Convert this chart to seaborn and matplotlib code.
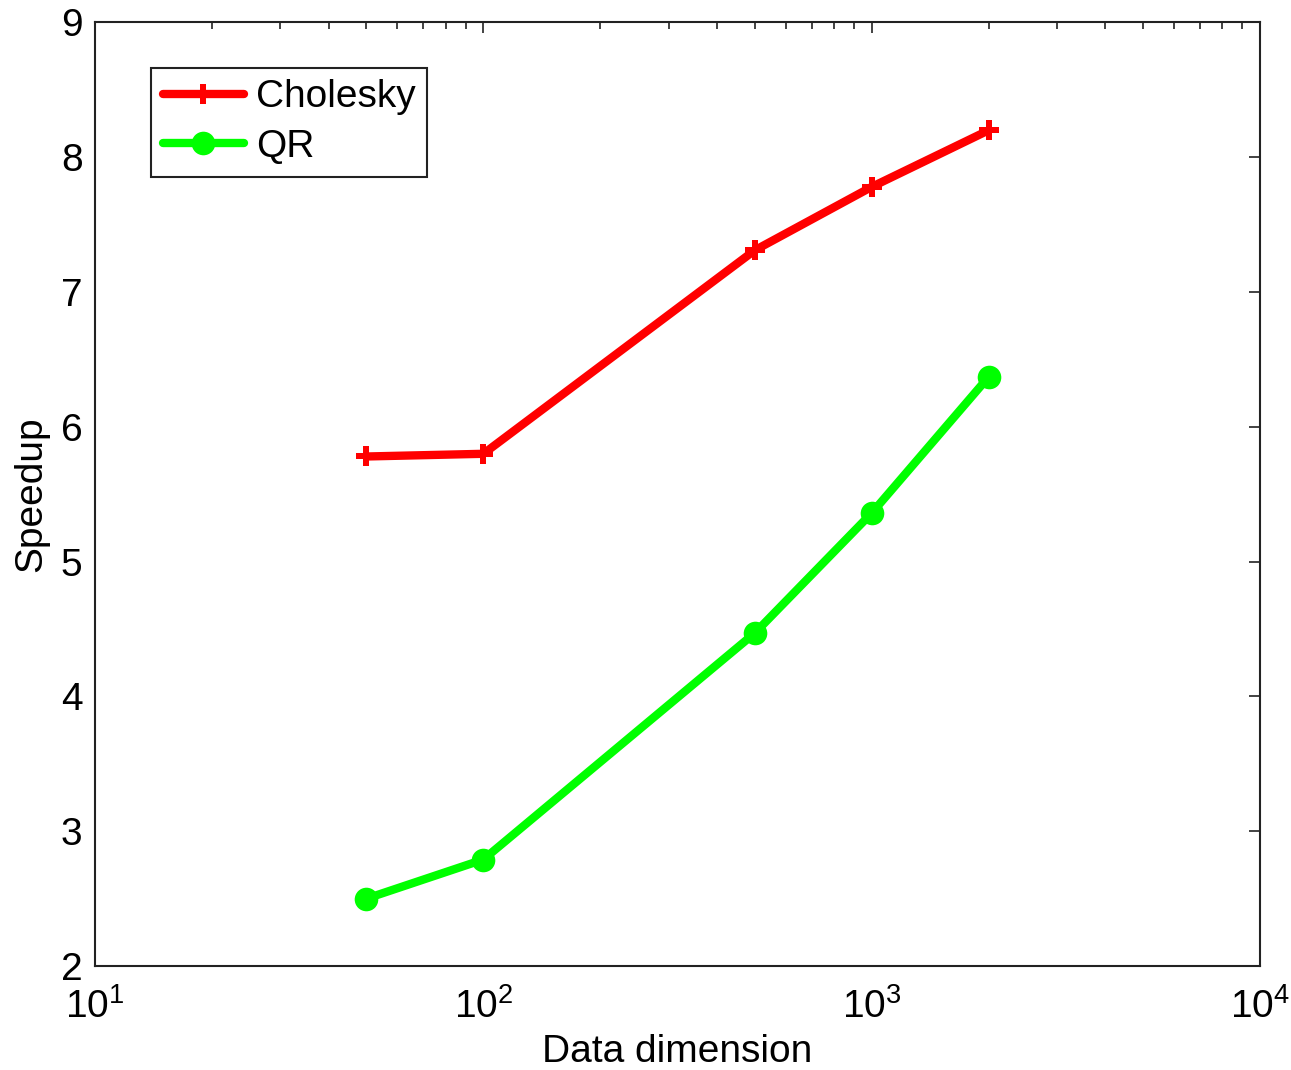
import matplotlib.pyplot as plt
import seaborn as sns
import pandas as pd
import numpy as np
from matplotlib.ticker import LogLocator, NullFormatter

dims = [50, 100, 500, 1000, 2000]
cholesky = [5.78, 5.80, 7.31, 7.78, 8.20]
qr = [2.50, 2.79, 4.47, 5.36, 6.37]

sns.set_style('white')
plt.rcParams['font.family'] = ['Liberation Sans', 'DejaVu Sans']
plt.rcParams['mathtext.fontset'] = 'custom'
plt.rcParams['mathtext.rm'] = 'Liberation Sans'
plt.rcParams['text.color'] = 'black'
plt.rcParams['axes.labelcolor'] = 'black'
plt.rcParams['xtick.color'] = 'black'
plt.rcParams['ytick.color'] = 'black'

df = pd.DataFrame({
    'dim': dims * 2,
    'speedup': cholesky + qr,
    'method': ['Cholesky'] * len(dims) + ['QR'] * len(dims),
})

fig = plt.figure(figsize=(12.91, 10.70), dpi=100)
ax = fig.add_axes([0.0736, 0.0972, 0.9024, 0.8818])

sns.lineplot(data=df, x='dim', y='speedup', hue='method', style='method',
             palette={'Cholesky': '#ff0000', 'QR': '#00ff00'},
             markers={'Cholesky': 'P', 'QR': 'o'}, dashes=False,
             linewidth=6, markersize=15, markeredgewidth=0, ax=ax)
# circles a bit bigger than the plus markers
for line in ax.lines:
    if line.get_marker() == 'o':
        line.set_markersize(17)

ax.set_xscale('log')
ax.set_xlim(10, 1e4)
ax.set_ylim(2, 9)
ax.set_yticks(range(2, 10))
ax.xaxis.set_major_locator(LogLocator(base=10, numticks=10))
ax.xaxis.set_minor_locator(LogLocator(base=10, subs=np.arange(2, 10), numticks=10))
ax.xaxis.set_minor_formatter(NullFormatter())
ax.tick_params(which='both', direction='in', top=True, right=True,
               labelsize=28, width=1.2, color='#222222')
ax.tick_params(which='major', length=8)
ax.tick_params(which='minor', length=5)
ax.tick_params(axis='x', which='major', pad=16)
ax.tick_params(axis='y', which='major', pad=9)
for s in ax.spines.values():
    s.set_color('#222222')
    s.set_linewidth(1.5)

ax.set_xlabel('Data dimension', fontsize=28, labelpad=6)
ax.set_ylabel('Speedup', fontsize=28, labelpad=8)

leg = ax.legend(loc='upper left', bbox_to_anchor=(0.048, 0.952), fontsize=28,
                fancybox=False, framealpha=1, edgecolor='#222222',
                handlelength=2.1, borderpad=0.3, labelspacing=0.35,
                handletextpad=0.3, borderaxespad=0)
leg.get_frame().set_linewidth(1.5)
for h in leg.legend_handles:
    h.set_linewidth(6)
leg.legend_handles[0].set_markersize(15)
leg.legend_handles[1].set_markersize(17)

fig.savefig('out.png', dpi=100)
